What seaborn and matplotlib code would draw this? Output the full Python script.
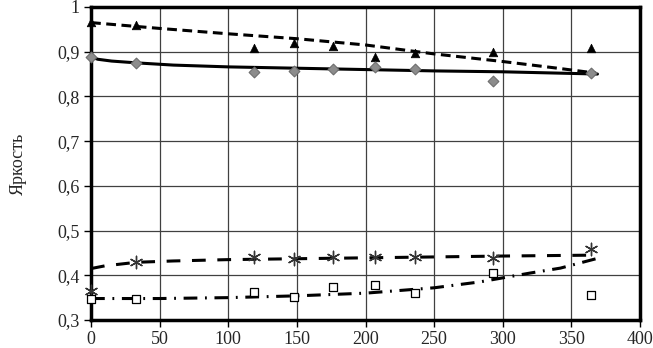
import numpy as np
import matplotlib
matplotlib.use('Agg')
import matplotlib.pyplot as plt
import seaborn as sns

# дни хранения
days = [0, 33, 119, 148, 176, 207, 236, 293, 364]

tri = [0.966, 0.960, 0.908, 0.919, 0.913, 0.888, 0.897, 0.900, 0.908]
dia = [0.888, 0.875, 0.855, 0.857, 0.861, 0.866, 0.861, 0.834, 0.853]
star = [0.365, 0.429, 0.441, 0.436, 0.440, 0.440, 0.440, 0.438, 0.459]
sq = [0.347, 0.347, 0.362, 0.351, 0.374, 0.378, 0.360, 0.405, 0.356]

# линии тренда
tr_solid_x = [0, 5, 15, 33, 60, 100, 150, 200, 250, 300, 369]
tr_solid_y = [0.888, 0.883, 0.879, 0.875, 0.870, 0.866, 0.863, 0.860, 0.857, 0.855, 0.850]
tr_dash_x = [0, 50, 100, 150, 200, 250, 300, 340, 368]
tr_dash_y = [0.965, 0.952, 0.940, 0.929, 0.915, 0.895, 0.878, 0.863, 0.852]
tr_star_x = [0, 10, 33, 60, 100, 150, 200, 250, 300, 366]
tr_star_y = [0.415, 0.421, 0.429, 0.432, 0.435, 0.437, 0.439, 0.441, 0.443, 0.445]
tr_dd_x = [0, 50, 100, 150, 200, 250, 283, 320, 342, 368]
tr_dd_y = [0.348, 0.348, 0.350, 0.354, 0.360, 0.372, 0.385, 0.405, 0.416, 0.437]

sns.set_style('white')
plt.rcParams['font.family'] = ['Liberation Serif', 'DejaVu Serif']

fig = plt.figure(figsize=(6.53, 3.48), dpi=100)
ax = fig.add_axes([0.1394, 0.0805, 0.8407, 0.8995])

sns.lineplot(x=tr_dash_x, y=tr_dash_y, ax=ax, color='black', lw=2.2,
             linestyle=(0, (3.2, 1.8)), zorder=3)
sns.lineplot(x=tr_solid_x, y=tr_solid_y, ax=ax, color='black', lw=2.2, zorder=3)
sns.lineplot(x=tr_star_x, y=tr_star_y, ax=ax, color='black', lw=2.2,
             linestyle=(0, (4.5, 3.8)), zorder=3)
sns.lineplot(x=tr_dd_x, y=tr_dd_y, ax=ax, color='black', lw=2.2,
             linestyle=(0, (4.5, 2.5, 0.6, 2.5)), zorder=3)

sns.scatterplot(x=days, y=tri, ax=ax, marker='^', color='black', s=38,
                edgecolor='black', linewidth=0.5, zorder=4, clip_on=False)
sns.scatterplot(x=days, y=dia, ax=ax, marker='D', color='#8c8c8c', s=30,
                edgecolor='#6e6e6e', linewidth=0.8, zorder=4, clip_on=False)
sns.scatterplot(x=days, y=star, ax=ax, marker=(6, 2, 0), color='#333333', s=80,
                linewidth=1.0, zorder=4, clip_on=False)
sns.scatterplot(x=days, y=sq, ax=ax, marker='s', color='white', s=38,
                edgecolor='black', linewidth=0.9, zorder=4, clip_on=False)

ax.set_xlim(0, 400)
ax.set_ylim(0.3, 1.0)
ax.set_xticks(np.arange(0, 401, 50))
yt = np.round(np.arange(0.3, 1.001, 0.1), 1)
ax.set_yticks(yt)
ax.set_yticklabels([('%.1f' % v).replace('.', ',') if v < 1 else '1' for v in yt])
ax.grid(True, color='#404040', lw=0.9)
ax.set_axisbelow(True)
for s in ax.spines.values():
    s.set_visible(True)
    s.set_color('black')
    s.set_linewidth(2.5)
ax.tick_params(axis='both', direction='out', length=5, width=1, color='black',
               labelsize=13, bottom=True, left=True, pad=3)
ax.set_ylabel('Яркость', fontsize=13, labelpad=22)
ax.set_xlabel('')

fig.savefig('out.png', dpi=100)
